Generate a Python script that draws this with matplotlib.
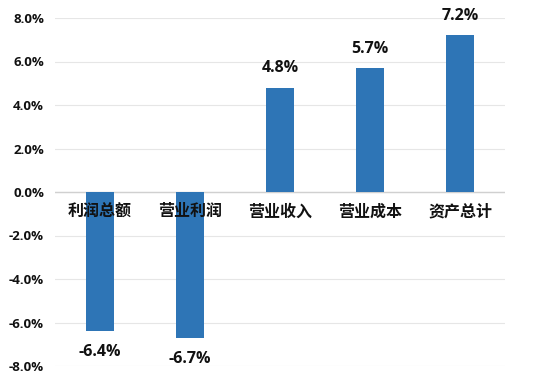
import matplotlib
matplotlib.use("Agg")
import matplotlib.pyplot as plt
from matplotlib.ticker import FuncFormatter

categories = ["利润总额", "营业利润", "营业收入", "营业成本", "资产总计"]
values = [-6.4, -6.7, 4.8, 5.7, 7.2]
y_ticks = [-8, -6, -4, -2, 0, 2, 4, 6, 8]

bar_color = "#2e75b6"
text_color = "#111111"
num_font = ["Open Sans", "DejaVu Sans"]
cjk_font = ["Noto Sans CJK SC", "DejaVu Sans"]

fig = plt.figure(figsize=(5.45, 3.84), dpi=100)
ax = fig.add_axes([55 / 545, 18 / 384, 450 / 545, 348 / 384])

x = list(range(len(categories)))
bars = ax.bar(x, values, width=0.31, color=bar_color, zorder=3)

ax.set_xlim(-0.5, len(categories) - 0.5)
ax.set_ylim(-8, 8)
ax.set_yticks(y_ticks)
ax.yaxis.set_major_formatter(FuncFormatter(lambda v, p: f"{v:.1f}%"))
ax.set_xticks([])
ax.grid(axis="y", color="#e6e6e6", linewidth=0.8, zorder=0)
ax.axhline(0, color="#d0d0d0", linewidth=1.0, zorder=2)
for s in ax.spines.values():
    s.set_visible(False)
ax.tick_params(axis="y", length=0, pad=8)
for lbl in ax.get_yticklabels():
    lbl.set_fontfamily(num_font)
    lbl.set_fontweight("bold")
    lbl.set_fontsize(9.5)
    lbl.set_color(text_color)

# category labels just under the zero line
for xi, name in zip(x, categories):
    ax.annotate(name, (xi, 0), xytext=(0, -14), textcoords="offset points",
                ha="center", va="center", fontsize=11.5, fontweight="bold",
                family=cjk_font, color=text_color, zorder=4)

# value labels
for xi, v in zip(x, values):
    off = 14 if v > 0 else -15
    ax.annotate(f"{v:.1f}%", (xi, v), xytext=(0, off), textcoords="offset points",
                ha="center", va="center", fontsize=11.5, fontweight="bold",
                family=num_font, color=text_color, zorder=4)

fig.savefig("out.png", dpi=100)
